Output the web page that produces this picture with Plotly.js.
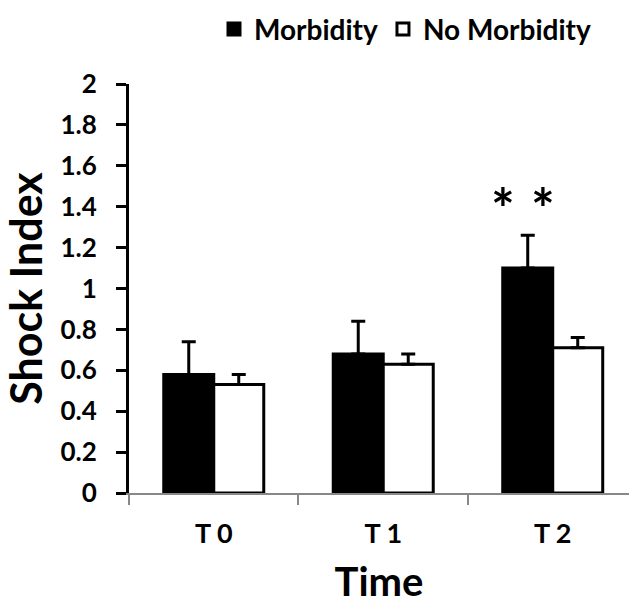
<!DOCTYPE html>
<html>
<head>
<meta charset="utf-8">
<script src="https://cdn.plot.ly/plotly-3.0.1.min.js"></script>
<style>html,body{margin:0;padding:0;background:#fff;}#chart{width:629px;height:605px;}</style>
</head>
<body>
<div id="chart"></div>
<script>
var categories = ["T 0", "T 1", "T 2"];
var morbidity = [0.58, 0.68, 1.10];
var morbidityErr = [0.16, 0.16, 0.16];
var noMorbidity = [0.53, 0.63, 0.71];
var noMorbidityErr = [0.05, 0.05, 0.05];
var yTickVals = [0, 0.2, 0.4, 0.6, 0.8, 1, 1.2, 1.4, 1.6, 1.8, 2];
var yTickText = ["0", "0.2", "0.4", "0.6", "0.8", "1", "1.2", "1.4", "1.6", "1.8", "2"];
var sigCategory = "T 2";
var sigY = 1.45;
var sigText = ["*", "*"];

var F = "Lato, 'Open Sans', sans-serif";

var traces = [
  {
    type: "bar", name: "Morbidity", x: categories, y: morbidity,
    marker: {color: "#000000", line: {color: "#000000", width: 3}},
    error_y: {type: "data", symmetric: false, array: morbidityErr, arrayminus: [0,0,0],
              color: "#000000", thickness: 3, width: 7}
  },
  {
    type: "bar", name: "No Morbidity", x: categories, y: noMorbidity,
    marker: {color: "#ffffff", line: {color: "#000000", width: 3}},
    error_y: {type: "data", symmetric: false, array: noMorbidityErr, arrayminus: [0,0,0],
              color: "#000000", thickness: 3, width: 7}
  }
];

var annotations = sigText.map(function (t, i) {
  return {
    x: sigCategory, y: sigY, xref: "x", yref: "y", text: t, showarrow: false,
    xshift: i === 0 ? -50 : -10, yshift: -11, yanchor: "middle",
    font: {family: F, size: 56, color: "#000", weight: 700}
  };
});

var layout = {
  width: 629, height: 605,
  margin: {l: 129, r: 0, t: 84, b: 112, pad: 0},
  paper_bgcolor: "#ffffff", plot_bgcolor: "#ffffff",
  font: {family: F, color: "#000000", weight: 700},
  barmode: "group", bargap: 0.41, bargroupgap: 0,
  showlegend: true,
  legend: {
    orientation: "h", x: 0.17, y: 1.195, xanchor: "left", yanchor: "top",
    font: {family: F, size: 28, color: "#000", weight: 700},
    bgcolor: "rgba(0,0,0,0)", traceorder: "normal"
  },
  xaxis: {
    type: "category", range: [-0.5, 2.45], tickson: "boundaries",
    showline: true, linecolor: "#888888", linewidth: 2,
    ticks: "outside", ticklen: 10, tickwidth: 2, tickcolor: "#888888",
    showgrid: false, zeroline: false, ticklabelstandoff: 16,
    tickfont: {family: F, size: 27, color: "#000", weight: 700},
    title: {text: "Time", standoff: 20, font: {family: F, size: 40, color: "#000", weight: 700}}
  },
  yaxis: {
    range: [0, 2], tickvals: yTickVals, ticktext: yTickText,
    showline: true, linecolor: "#000000", linewidth: 3,
    ticks: "outside", ticklen: 10, tickwidth: 3, tickcolor: "#000000",
    showgrid: false, zeroline: false, ticklabelstandoff: 14,
    tickfont: {family: F, size: 26, color: "#000", weight: 700},
    title: {text: "Shock Index", standoff: 10, font: {family: F, size: 43, color: "#000", weight: 700}}
  },
  annotations: annotations
};

Plotly.newPlot("chart", traces, layout, {displayModeBar: false, staticPlot: true});
</script>
</body>
</html>
